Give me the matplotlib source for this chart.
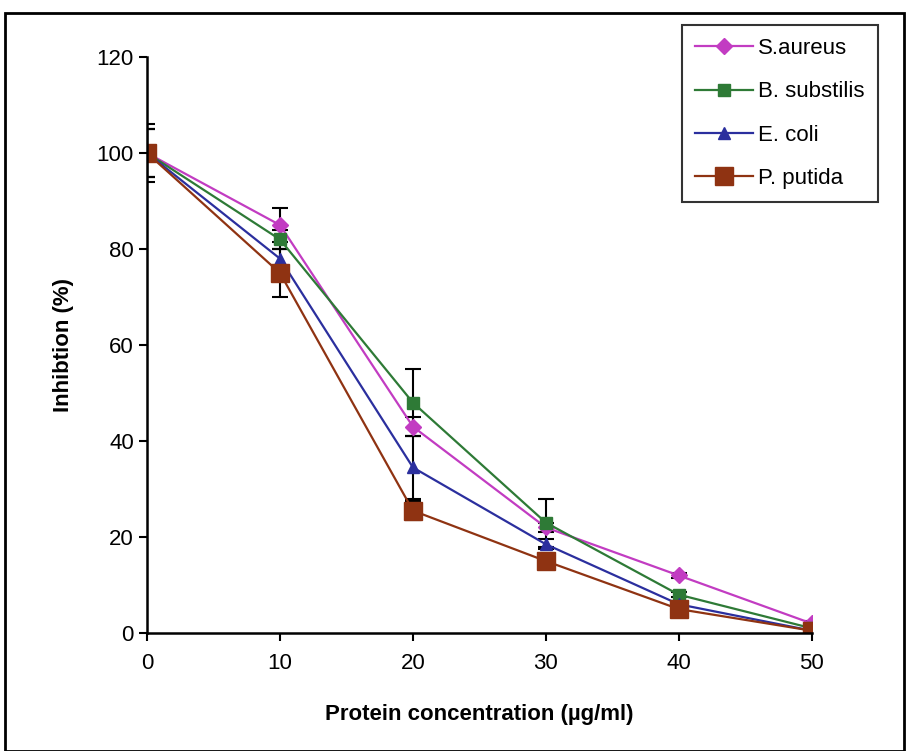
import matplotlib.pyplot as plt
import matplotlib.patches as mpatches

# 데이터
conc = [0, 10, 20, 30, 40, 50]
s_aureus = [100, 85, 43, 22, 12, 2]
b_substilis = [100, 82, 48, 23, 8, 1]
e_coli = [100, 78, 34.5, 18.5, 6, 0.5]
p_putida = [100, 75, 25.5, 15, 5, 0.5]

s_aureus_err = [6, 3.5, 2, 1, 0.5, 0.5]
b_substilis_err = [5, 2, 7, 5, 0.5, 0.5]
e_coli_err = [5, 2, 6.5, 1, 0.5, 0.5]
p_putida_err = [5, 5, 2, 1, 0.5, 0.5]

series_names = ['S.aureus', 'B. substilis', 'E. coli', 'P. putida']

plt.rcParams['font.family'] = ['Liberation Sans', 'DejaVu Sans']

fig = plt.figure(figsize=(9.08, 7.51), dpi=100)
ax = fig.add_axes([0.162, 0.157, 0.732, 0.767])

# 바깥 테두리
fig.patches.append(mpatches.Rectangle((0.006, 0.0), 0.99, 0.983, transform=fig.transFigure,
                                      fill=False, edgecolor='k', linewidth=2))

styles = [
    (s_aureus, s_aureus_err, '#c23cc2', 'D', 8),
    (b_substilis, b_substilis_err, '#2e7a36', 's', 8),
    (e_coli, e_coli_err, '#2b2f9e', '^', 9),
    (p_putida, p_putida_err, '#8f3312', 's', 13),
]

handles = []
for (vals, err, c, m, ms), name in zip(styles, series_names):
    cont = ax.errorbar(conc, vals, yerr=err, color=c, marker=m, markersize=ms, linewidth=1.6,
                       ecolor='k', elinewidth=1.5, capsize=6, capthick=1.5, label=name,
                       markeredgecolor=c)
    handles.append(cont.lines[0])

ax.set_xlim(0, 50)
ax.set_ylim(0, 120)
ax.set_xticks(conc)
ax.set_yticks(range(0, 121, 20))
ax.spines['top'].set_visible(False)
ax.spines['right'].set_visible(False)
ax.spines['left'].set_linewidth(1.8)
ax.spines['bottom'].set_linewidth(1.8)
ax.tick_params(axis='both', labelsize=16, width=1.5, length=6)
ax.tick_params(axis='x', pad=8)

ax.set_xlabel('Protein concentration (µg/ml)', fontsize=16, fontweight='bold', labelpad=22)
ax.set_ylabel('Inhibtion (%)', fontsize=16, fontweight='bold', labelpad=16)

leg = ax.legend(handles, series_names, loc='upper right', bbox_to_anchor=(1.099, 1.056),
                borderaxespad=0, fontsize=16, frameon=True, fancybox=False, edgecolor='k',
                handlelength=2.6, borderpad=0.6, labelspacing=1.0, handletextpad=0.2)
leg.get_frame().set_linewidth(1.5)

plt.savefig('out.png', dpi=100)
